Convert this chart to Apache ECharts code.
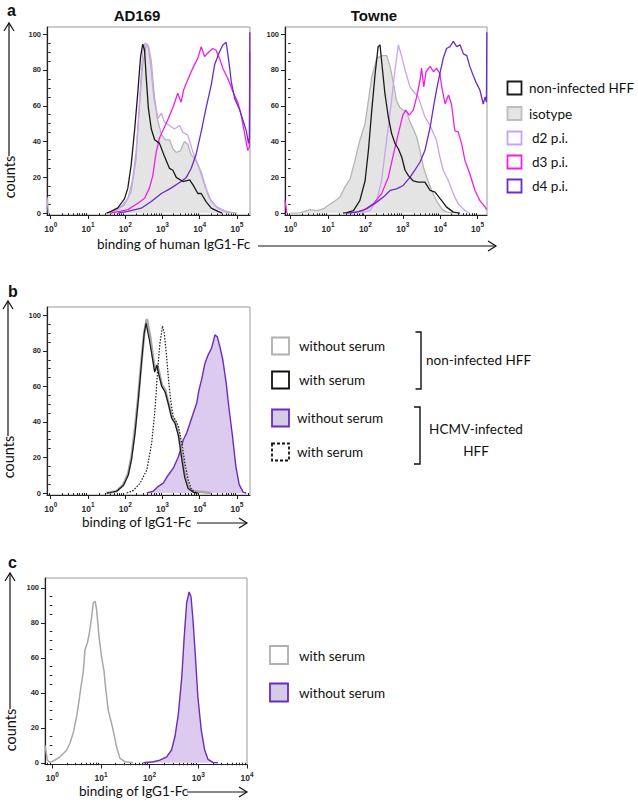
<!DOCTYPE html>
<html><head><meta charset="utf-8">
<script src="https://cdn.jsdelivr.net/npm/echarts@6/dist/echarts.min.js"></script>
<style>html,body{margin:0;padding:0;background:#fff}#c{width:638px;height:802px}</style>
</head><body><div id="c"></div>
<script>
// ---- data: [log10(fluorescence), % of max counts] ----
const ad169_nonInfected = [[1.5,0],[1.62,1],[1.8,3],[1.98,8],[2.07,14],[2.16,27],[2.25,46],[2.34,68],[2.41,87],[2.47,94.5],[2.52,91],[2.56,77],[2.62,59],[2.7,47],[2.79,41],[2.92,39],[3.05,32],[3.19,25],[3.28,24],[3.37,20],[3.55,17.7],[3.73,18.6],[3.82,15.8],[3.95,11],[4.04,11],[4.17,6.5],[4.31,2.8],[4.49,1],[4.6,0]];
const ad169_isotype = [[1.5,0],[1.62,0.5],[1.89,3.7],[2.07,8],[2.2,19],[2.29,34],[2.38,59],[2.47,83],[2.56,94],[2.63,93],[2.7,85],[2.77,68],[2.86,53],[2.97,44],[3.08,41],[3.19,41],[3.28,36],[3.37,34],[3.48,34.8],[3.59,40],[3.68,38.5],[3.77,32.6],[3.86,30.7],[3.99,25],[4.13,15.8],[4.26,8.4],[4.44,3.7],[4.67,1.3],[4.85,0.5],[5.0,0]];
const ad169_d2 = [[-0.1,9],[-0.06,0],[0.5,'-'],[1.6,0],[1.71,1],[1.98,4.7],[2.16,12],[2.29,30],[2.4,68],[2.47,90],[2.53,95],[2.61,94],[2.68,83],[2.77,64],[2.88,53],[2.97,55.8],[3.05,51],[3.19,49],[3.32,47],[3.46,49],[3.55,45],[3.68,43.7],[3.82,34],[3.9,29.8],[4.04,23],[4.17,14],[4.31,6.5],[4.49,2.8],[4.67,1],[4.8,0]];
const ad169_d3 = [[1.6,0],[1.71,0.5],[2.07,2],[2.34,5.6],[2.52,8.4],[2.65,14],[2.74,21],[2.83,34],[2.92,42],[3.01,46],[3.14,52],[3.28,59],[3.41,67],[3.5,62],[3.57,69],[3.66,73.5],[3.77,79],[3.86,83],[3.95,86.6],[4.04,93],[4.13,87.5],[4.26,90.3],[4.35,92],[4.44,91],[4.53,86.6],[4.62,81],[4.76,75],[4.89,68],[5.02,62],[5.11,55],[5.2,45],[5.29,35],[5.335,37],[5.345,90]];
const ad169_d4 = [[1.8,0],[2.07,1],[2.43,2.8],[2.7,6.5],[2.97,11],[3.23,14],[3.5,17.7],[3.64,20],[3.77,25],[3.9,32.6],[4.04,45.6],[4.17,58.7],[4.31,71.7],[4.4,82.9],[4.53,90],[4.62,94],[4.71,95.5],[4.76,88],[4.8,82],[4.85,73],[4.94,64],[5.07,58],[5.16,52],[5.25,46],[5.31,39],[5.335,42],[5.345,101]];

const towne_nonInfected = [[1.4,0],[1.5,0.3],[1.68,1.5],[1.85,7],[1.99,18],[2.08,35],[2.17,57.6],[2.26,78],[2.34,93],[2.39,94],[2.43,85.6],[2.52,67],[2.61,54],[2.7,44.5],[2.79,39],[2.88,36],[2.97,31.4],[3.06,24],[3.15,21],[3.28,18],[3.41,17.4],[3.59,17.4],[3.73,12.7],[3.86,11.8],[4.04,7],[4.17,3.4],[4.35,0.6],[4.53,0]];
const towne_isotype = [[0.0,0],[0.25,0.2],[0.52,2],[0.7,1.5],[0.87,2.4],[1.05,5],[1.19,7],[1.32,9],[1.45,14.6],[1.59,19],[1.72,29.5],[1.85,40.7],[1.99,50],[2.08,63],[2.17,76],[2.3,86.5],[2.43,88],[2.57,88],[2.66,82],[2.75,72.5],[2.83,63],[2.92,59],[3.01,57.6],[3.1,56.6],[3.19,51],[3.28,47],[3.37,42.6],[3.46,35],[3.55,25.8],[3.64,20],[3.77,12.7],[3.9,7],[4.04,2.4],[4.17,0.6],[4.35,0]];
const towne_d2 = [[1.85,0],[2.12,1.5],[2.3,7],[2.43,18],[2.52,33],[2.61,48],[2.7,63],[2.79,80],[2.88,94],[2.97,87.5],[3.06,80],[3.19,70.6],[3.32,67],[3.41,65],[3.5,59.4],[3.59,53.8],[3.73,49],[3.82,44.5],[3.9,40.7],[3.99,31.4],[4.08,24],[4.22,18],[4.35,10.8],[4.48,5.2],[4.66,1.5],[4.79,0]];
const towne_d3 = [[-0.15,7],[-0.1,0],[0.5,'-'],[1.59,0],[1.94,1.5],[2.21,5.2],[2.43,10.8],[2.61,20],[2.75,33],[2.88,44.5],[3.0,54.8],[3.08,57.6],[3.17,54.8],[3.28,57.6],[3.37,65],[3.46,74.4],[3.5,81],[3.56,70.6],[3.62,79],[3.73,82],[3.82,79],[3.9,81],[3.99,78],[4.04,70.6],[4.13,61],[4.22,66],[4.3,61],[4.39,46],[4.48,45.4],[4.57,39],[4.66,29.5],[4.79,22],[4.93,12.7],[5.06,7],[5.2,3.4],[5.24,2]];
const towne_d4 = [[1.5,0],[1.77,0.6],[2.03,2.4],[2.3,6.2],[2.48,9],[2.66,12.7],[2.83,13.6],[3.01,15.5],[3.19,20],[3.32,24],[3.46,28.6],[3.59,35],[3.73,48],[3.82,59.4],[3.9,68.8],[3.99,78],[4.08,86.5],[4.17,92],[4.26,93],[4.35,96],[4.44,93],[4.53,94],[4.62,89],[4.71,88],[4.79,82],[4.88,77],[4.97,72.5],[5.06,68.8],[5.15,61],[5.2,65],[5.235,62],[5.245,101]];

const b_nonInfWithout = [[1.5,0],[1.59,0.3],[1.77,1],[1.95,4.7],[2.08,11],[2.17,20.6],[2.26,35.6],[2.35,54],[2.44,75],[2.51,90],[2.58,98],[2.67,88],[2.74,77],[2.8,69],[2.86,72],[2.92,67],[2.98,61],[3.07,58],[3.16,50.7],[3.25,43],[3.34,40],[3.43,34],[3.52,21],[3.6,10],[3.69,3.5],[3.83,1],[4.1,0.5],[4.3,0]];
const b_nonInfWith = [[1.5,0],[1.59,0.3],[1.77,1],[1.95,4.2],[2.08,10],[2.17,19],[2.26,33],[2.35,52],[2.44,74],[2.51,90],[2.56,95.5],[2.65,86],[2.73,76],[2.79,68],[2.85,72],[2.91,66],[2.98,60],[3.07,57],[3.16,50],[3.25,42],[3.34,39],[3.43,32],[3.52,19],[3.6,8.5],[3.69,2.5],[3.83,0.4],[3.95,0]];
const b_infWithout = [[2.58,0],[2.75,1],[2.89,3.8],[3.02,5.6],[3.16,10.3],[3.29,14],[3.43,20.6],[3.56,30],[3.65,33.8],[3.74,39.4],[3.83,45],[3.92,50.7],[3.98,58],[4.05,63.8],[4.14,73],[4.23,77.9],[4.32,81.6],[4.41,89],[4.47,88],[4.54,82.5],[4.62,75],[4.71,62],[4.79,47],[4.88,32],[4.97,15],[5.06,4.7],[5.17,0.4],[5.25,0]];
const b_infWith = [[2.04,0],[2.22,1.5],[2.4,5.6],[2.58,13],[2.71,28],[2.8,47],[2.87,69],[2.93,84],[3.0,94],[3.05,90],[3.11,77],[3.17,62],[3.23,50.7],[3.29,43],[3.35,41],[3.43,37.5],[3.52,28],[3.6,17],[3.69,7.5],[3.78,1.9],[3.92,0]];

const c_withSerum = [[-0.15,10],[-0.1,1.5],[-0.05,0.2],[0.02,1],[0.16,3.4],[0.29,7],[0.36,11],[0.43,17],[0.51,28],[0.58,41.7],[0.64,53],[0.67,64.6],[0.72,68.5],[0.76,74],[0.81,83.7],[0.84,91.4],[0.88,92.4],[0.91,87.6],[0.96,72.3],[1.01,60.8],[1.06,53],[1.1,41.7],[1.15,30],[1.2,24.5],[1.25,18.7],[1.32,9.2],[1.39,2.5],[1.49,0.6],[1.66,0]];
const c_withoutSerum = [[1.87,0],[2.08,0.6],[2.21,1.5],[2.35,3.4],[2.45,7.3],[2.52,15],[2.59,28],[2.66,49],[2.71,72],[2.76,91.4],[2.81,97.7],[2.85,95],[2.89,81.8],[2.94,60.8],[2.99,37.9],[3.06,18.7],[3.13,7.3],[3.2,1.9],[3.3,0.2],[3.4,0]];

// ---- tick labels / text ----
const decadesAB = [0,1,2,3,4,5];
const decadesC = [0,1,2,3,4];
const yLabels = [0,20,40,60,80,100];
const yMinor = [5,10,15,25,30,35,45,50,55,65,70,75,85,90,95];
const panelTitles = ['AD169','Towne'];
const legendA = ['non-infected HFF','isotype','d2 p.i.','d3 p.i.','d4 p.i.'];
const legendB = ['without serum','with serum','without serum','with serum'];
const legendBGroups = ['non-infected HFF','HCMV-infected','HFF'];
const legendC = ['with serum','without serum'];
const xTitleA = 'binding of human IgG1-Fc';
const xTitleBC = 'binding of IgG1-Fc';

// ---- styling ----
const COL = {black:'#1a1a1a', isoLine:'#b4b4b4', isoFill:'#e4e4e4', d2:'#c9a2f2', d3:'#f21ee6', d4:'#6b2cc4', gray:'#a8a8a8', purpFill:'#dccbee', purpLine:'#6a2bbf'};
const FONT = 'Lato, "Open Sans", sans-serif';

const grids = [
  {left:47, top:27, width:203, height:188, lo:-0.1, hi:5.35, ymin:-1, ymax:104, dec:decadesAB},
  {left:285, top:27, width:202, height:188, lo:-0.15, hi:5.25, ymin:-1, ymax:104, dec:decadesAB},
  {left:47, top:307, width:203, height:188, lo:-0.1, hi:5.35, ymin:-1.1, ymax:104.7, dec:decadesAB},
  {left:45, top:578, width:202, height:186.5, lo:-0.15, hi:4.0, ymin:-1, ymax:105.7, dec:decadesC}
];
function minorLog(lo, hi){const o=[];for(let k=Math.floor(lo);k<=Math.ceil(hi);k++){for(let m=2;m<=9;m++){const v=k+Math.log10(m);if(v>lo&&v<hi)o.push(v);}}return o;}

const gridOpt=[], xAxes=[], yAxes=[];
grids.forEach((g,i)=>{
  gridOpt.push({left:g.left, top:g.top, width:g.width, height:g.height, show:true, borderColor:'#9a9a9a', borderWidth:1, containLabel:false});
  xAxes.push({type:'value', gridIndex:i, min:g.lo, max:g.hi, position:'bottom',
    axisLine:{show:true, onZero:false, lineStyle:{color:'#222', width:1.2}},
    axisTick:{show:true, customValues:g.dec, length:4, lineStyle:{color:'#222'}},
    axisLabel:{customValues:g.dec, margin:6, formatter:v=>'{b|10}{s|'+v+'}',
      rich:{b:{fontSize:8.5, fontWeight:'bold', color:'#2a2a2a', fontFamily:'Arial', lineHeight:12, verticalAlign:'bottom'},
            s:{fontSize:6.5, fontWeight:'bold', color:'#2a2a2a', fontFamily:'Arial', lineHeight:7, verticalAlign:'top'}}},
    splitLine:{show:false}});
  xAxes.push({type:'value', gridIndex:i, min:g.lo, max:g.hi, position:'bottom',
    axisLine:{show:false}, axisTick:{show:true, customValues:minorLog(g.lo,g.hi), length:2.5, lineStyle:{color:'#222'}},
    axisLabel:{show:false}, splitLine:{show:false}});
  yAxes.push({type:'value', gridIndex:i, min:g.ymin, max:g.ymax, position:'left',
    axisLine:{show:true, onZero:false, lineStyle:{color:'#222', width:1.2}},
    axisTick:{show:true, customValues:yLabels, length:4, lineStyle:{color:'#222'}},
    axisLabel:{customValues:yLabels, margin:6, fontSize:7.5, fontWeight:'bold', color:'#2a2a2a', fontFamily:'Arial'},
    splitLine:{show:false}});
  yAxes.push({type:'value', gridIndex:i, min:g.ymin, max:g.ymax, position:'left',
    axisLine:{show:false}, axisTick:{show:true, customValues:yMinor, length:2.5, lineStyle:{color:'#222'}},
    axisLabel:{show:false}, splitLine:{show:false}});
});

function ser(gi, data, color, width, extra){
  return Object.assign({type:'line', xAxisIndex:gi*2, yAxisIndex:gi*2, data:data, showSymbol:false, symbol:'none',
    connectNulls:false, silent:true, animation:false, lineStyle:{color:color, width:width}}, extra||{});
}
const series = [
  ser(0, ad169_isotype, COL.isoLine, 1.3, {areaStyle:{color:COL.isoFill, opacity:1}, z:1}),
  ser(0, ad169_d2, COL.d2, 1.3, {z:2}),
  ser(0, ad169_d3, COL.d3, 1.3, {z:3}),
  ser(0, ad169_d4, COL.d4, 1.3, {z:4}),
  ser(0, ad169_nonInfected, COL.black, 1.3, {z:5}),
  ser(1, towne_isotype, COL.isoLine, 1.3, {areaStyle:{color:COL.isoFill, opacity:1}, z:1}),
  ser(1, towne_d2, COL.d2, 1.3, {z:2}),
  ser(1, towne_d3, COL.d3, 1.3, {z:3}),
  ser(1, towne_d4, COL.d4, 1.3, {z:4}),
  ser(1, towne_nonInfected, COL.black, 1.3, {z:5}),
  ser(2, b_infWithout, COL.purpLine, 1.4, {areaStyle:{color:COL.purpFill, opacity:1}, z:1}),
  ser(2, b_nonInfWithout, COL.gray, 2.6, {z:2}),
  ser(2, b_nonInfWith, COL.black, 1.2, {z:3}),
  ser(2, b_infWith, COL.black, 1.2, {z:4, lineStyle:{color:COL.black, width:1.2, type:[1.5,1.5]}}),
  ser(3, c_withoutSerum, COL.purpLine, 1.4, {areaStyle:{color:COL.purpFill, opacity:1}, z:1}),
  ser(3, c_withSerum, COL.gray, 1.5, {z:2})
];

// ---- decorations (text, arrows, legends) ----
const G = [];
function txt(x,y,s,opt){G.push({type:'text', x:x, y:y, style:Object.assign({text:s, fill:'#111', fontSize:13.5, fontFamily:FONT, textAlign:'left', textVerticalAlign:'middle'}, opt||{})});}
function ln(x1,y1,x2,y2,w){G.push({type:'line', shape:{x1:x1,y1:y1,x2:x2,y2:y2}, style:{stroke:'#111', lineWidth:w||1.2}});}
function pl(pts,w,dash){G.push({type:'polyline', shape:{points:pts}, style:{stroke:'#111', fill:null, lineWidth:w||1.2, lineDash:dash||null}});}
function box(x,y,w,h,stroke,fill,dash){G.push({type:'rect', shape:{x:x,y:y,width:w,height:h}, style:{stroke:stroke, fill:fill||'#fff', lineWidth:1.8, lineDash:dash||null}});}
function upArrow(x,top,bottom){ln(x,top,x,bottom,1.2);pl([[x-5,top+8],[x,top],[x+5,top+8]],1.2);}
function rightArrow(x1,x2,y){ln(x1,y,x2,y,1.2);pl([[x2-8,y-5],[x2,y],[x2-8,y+5]],1.2);}
function counts(x,yc){G.push({type:'text', x:x, y:yc, rotation:Math.PI/2, style:{text:'counts', fill:'#111', fontSize:14.5, fontFamily:FONT, textAlign:'center', textVerticalAlign:'middle'}});}

// panel letters and titles
txt(7,10,'a',{fontWeight:'bold', fontSize:16, fontFamily:'Arial'});
txt(8,291,'b',{fontWeight:'bold', fontSize:16, fontFamily:'Arial'});
txt(8,562,'c',{fontWeight:'bold', fontSize:16, fontFamily:'Arial'});
txt(137,15,panelTitles[0],{fontWeight:'bold', fontSize:15, fontFamily:'Arial', textAlign:'center'});
txt(374,15,panelTitles[1],{fontWeight:'bold', fontSize:15, fontFamily:'Arial', textAlign:'center'});

// y arrows + counts
upArrow(9,23,156); counts(9,177);
upArrow(8,301,436); counts(8,457);
upArrow(10,573,709); counts(10,730);

// x titles + arrows
txt(97,244,xTitleA,{});
rightArrow(258,496,246);
txt(82,522,xTitleBC,{});
rightArrow(197,247,523);
txt(79,791,xTitleBC,{});
rightArrow(187,247,792);

// legend a
const legAStyles=[[COL.black,'#fff'],['#bdbdbd',COL.isoFill],[COL.d2,'#fff'],[COL.d3,'#fff'],[COL.d4,'#fff']];
const legAY=[88,113.5,138,162,186];
legendA.forEach((s,i)=>{box(507.5,legAY[i]-6.5,14,13,legAStyles[i][0],legAStyles[i][1]);txt(i<2?529:532,legAY[i],s,{});});

// legend b
const legBY=[346,380,418,452];
box(272,337.5,17,17,'#b0b0b0','#fff');
box(272,371.5,17,17,'#111','#fff');
box(272,409.5,17,17,COL.purpLine,'#d6cbe6');
box(272,443.5,17,17,'#111','#fff',[3,2]);
legendB.forEach((s,i)=>txt(i<2?299:297,legBY[i],s,{}));
pl([[415.5,332],[421,332],[421,389],[415.5,389]],1.4);
pl([[414,407],[420,407],[420,464],[414,464]],1.4);
txt(426,360,legendBGroups[0],{});
txt(476,429,legendBGroups[1],{textAlign:'center'});
txt(476,451,legendBGroups[2],{textAlign:'center'});

// legend c
box(270,646,18,18,'#b0b0b0','#fff');
box(270,683.5,18,18,COL.purpLine,'#d6cbe6');
txt(299,655.5,legendC[0],{});
txt(299,693,legendC[1],{});

const chart = echarts.init(document.getElementById('c'), null, {renderer:'svg', width:638, height:802});
chart.setOption({animation:false, backgroundColor:'#fff', grid:gridOpt, xAxis:xAxes, yAxis:yAxes, series:series, graphic:{elements:G}});
</script></body></html>
